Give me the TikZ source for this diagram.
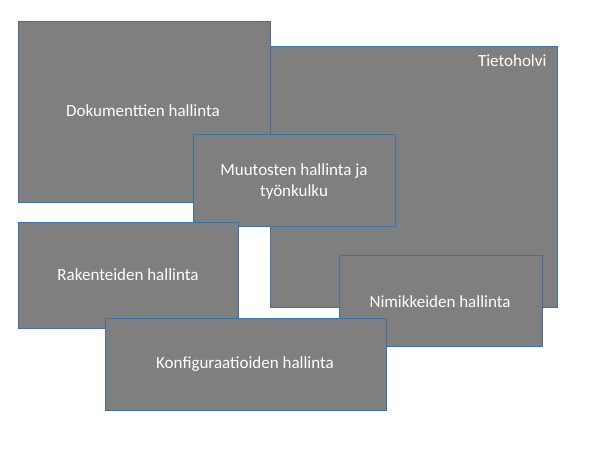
\documentclass[tikz,border=0pt]{standalone}
\usepackage{fontspec}
\setmainfont{Carlito}
\begin{document}
\begin{tikzpicture}[x=1pt,y=-1pt,
 box/.style={draw=boxline,fill=boxfill,line width=0.8pt},
 lbl/.style={text=white,font=\fontsize{17}{21}\selectfont,align=center}]
\definecolor{boxfill}{HTML}{7F7F7F}
\definecolor{boxline}{HTML}{41719C}
\useasboundingbox[fill=white] (0,0) rectangle (615,449);
\draw[box] (270,46) rectangle (557,307);
\node[lbl,anchor=east] (tv) at (550,61) {Tietoholvi};
\draw[box] (18,21) rectangle (270,202);
\node[lbl] (dok) at (143,111) {Dokumenttien hallinta};
\draw[box] (193,134) rectangle (395,226);
\node[lbl] (muu) at (294,181) {Muutosten hallinta ja\\työnkulku};
\draw[box] (18,222) rectangle (238,328);
\node[lbl] (rak) at (128,275) {Rakenteiden hallinta};
\draw[box] (339,255) rectangle (542,346);
\node[lbl] (nim) at (440,302) {Nimikkeiden hallinta};
\draw[box] (105,318) rectangle (386,410);
\node[lbl] (kon) at (245,364) {Konfiguraatioiden hallinta};
\end{tikzpicture}
\end{document}
